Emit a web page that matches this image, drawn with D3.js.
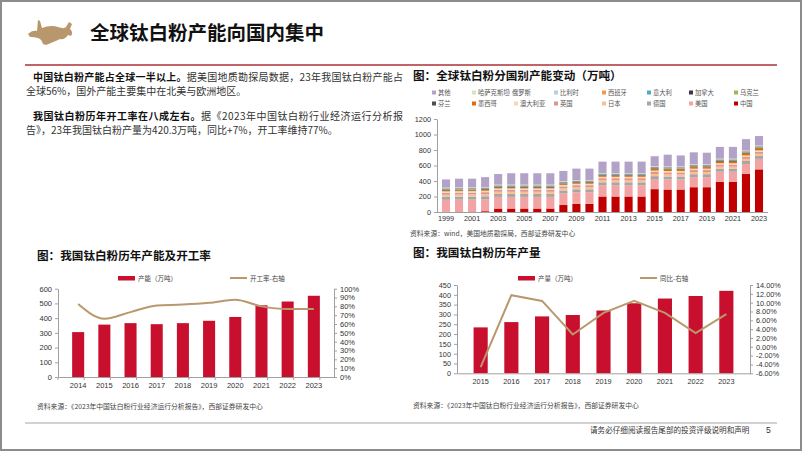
<!DOCTYPE html>
<html><head><meta charset="utf-8">
<script src="https://cdn.jsdelivr.net/npm/d3@7"></script>
<style>body{margin:0;background:#fff}svg{display:block;font-family:"Noto Sans CJK SC","Noto Sans",sans-serif}</style>
</head><body><svg id="c" width="802" height="451"></svg>
<script>
// ---------- DATA ----------
const stackYears = ["1999","2000","2001","2002","2003","2004","2005","2006","2007","2008","2009","2010","2011","2012","2013","2014","2015","2016","2017","2018","2019","2020","2021","2022","2023"];
const stackTickYears = ["1999","2001","2003","2005","2007","2009","2011","2013","2015","2017","2019","2021","2023"];
const stackTicks = [0,200,400,600,800,1000,1200];
const seriesNames = ["中国","美国","德国","日本","英国","澳大利亚","墨西哥","芬兰","乌克兰","加拿大","意大利","西班牙","比利时","俄罗斯","哈萨克斯坦","其他"];
const seriesColors = ["#c00000","#f2a3a3","#a6a6a6","#fac090","#d99694","#fcd5b5","#e46c0a","#4d4d4d","#9bbb59","#403152","#4bacc6","#f79646","#b9cde5","#ccc1da","#d7e4bd","#b3a2c7"];
const chinaCap     = [2,5,5,10,45,45,45,45,45,90,105,105,200,200,200,200,295,290,290,320,320,390,390,490,550];
const usaCap       = [155,155,155,155,150,150,150,150,150,150,150,150,145,145,145,145,130,130,130,130,130,130,130,130,135];
const germanyCap   = [38,38,38,38,38,38,38,38,38,38,38,38,38,38,38,38,38,38,38,38,38,38,38,38,38];
const japanCap     = [28,28,28,28,28,28,28,28,28,28,28,28,28,28,28,28,28,28,28,28,28,28,28,28,28];
const ukCap        = [25,25,25,25,25,25,25,25,25,25,25,25,25,25,25,25,25,25,25,25,25,25,25,25,25];
const australiaCap = [18,18,18,18,18,18,18,18,18,18,18,18,18,18,18,18,18,18,18,18,18,18,18,18,18];
const mexicoCap    = [10,10,10,10,10,10,10,10,10,10,10,10,10,10,10,10,20,20,20,20,20,20,20,25,25];
const finlandCap   = [10,10,10,10,10,10,10,10,10,10,10,10,10,10,10,10,10,10,10,10,10,10,10,10,10];
const ukraineCap   = [8,8,8,8,8,8,8,8,8,8,8,8,8,8,8,8,8,8,8,8,8,8,8,8,8];
const canadaCap    = [5,5,5,5,5,5,5,5,5,5,5,5,5,5,5,5,5,5,5,5,5,5,5,5,5];
const italyCap     = [5,5,5,5,5,5,5,5,5,5,5,5,5,5,5,5,5,5,5,5,5,5,5,5,5];
const spainCap     = [4,4,4,4,4,4,4,4,4,4,4,4,4,4,4,4,4,4,4,4,4,4,4,4,4];
const belgiumCap   = [4,4,4,4,4,4,4,4,4,4,4,4,4,4,4,4,4,4,4,4,4,4,4,4,4];
const russiaCap    = [2,2,2,2,2,2,2,2,2,2,2,2,2,2,2,2,2,2,2,2,2,2,2,2,2];
const kazakhCap    = [1,1,1,1,1,1,1,1,1,1,1,1,1,1,1,1,1,1,1,1,1,1,1,1,1];
const otherCap     = [105,112,112,127,137,147,147,147,147,132,147,147,147,147,147,147,127,152,142,152,147,152,152,147,122];
const seriesValues = [chinaCap,usaCap,germanyCap,japanCap,ukCap,australiaCap,mexicoCap,finlandCap,ukraineCap,canadaCap,italyCap,spainCap,belgiumCap,russiaCap,kazakhCap,otherCap];
const legendOrder = ["其他","哈萨克斯坦","俄罗斯","比利时","西班牙","意大利","加拿大","乌克兰","芬兰","墨西哥","澳大利亚","英国","日本","德国","美国","中国"];

const capYears = ["2014","2015","2016","2017","2018","2019","2020","2021","2022","2023"];
const capacity = [305,356,366,359,366,382,408,487,513,552];
const utilization = [0.826,0.66,0.735,0.81,0.82,0.84,0.875,0.80,0.77,0.77];
const capLeftTicks = [0,100,200,300,400,500,600];
const capRightTicks = [0,0.1,0.2,0.3,0.4,0.5,0.6,0.7,0.8,0.9,1.0];

const outYears = ["2015","2016","2017","2018","2019","2020","2021","2022","2023"];
const output = [234,261,290,297,320,357,381,394,420.3];
const yoy = [-0.046,0.117,0.104,0.028,0.077,0.104,0.077,0.031,0.074];
const outLeftTicks = [0,50,100,150,200,250,300,350,400,450];
const outRightTicks = [-0.06,-0.04,-0.02,0,0.02,0.04,0.06,0.08,0.10,0.12,0.14];

// ---------- DRAW ----------
const svg = d3.select("#c");
const RED = "#c8102e", TAN = "#b9986e", AX = "#a0a0a0", TX = "#333";
const NUMF = "'Liberation Sans',Arial,sans-serif";

svg.append("rect").attr("x",1).attr("y",1).attr("width",800).attr("height",449).attr("fill","#fff").attr("stroke","#8c8c8c").attr("stroke-width",2);

// logo
svg.append("path").attr("fill","#b8976c")
  .attr("d","M28,34 C31,31 34,30 37,31 L38,20 L40,21 L42,28 C47,26 53,25 58,27 C62,28 64,29 66,27 L69,22 L72,24 L70,29 C72,31 73,33 71,36 L68,35 C66,38 63,40 60,39 C56,41 51,43 46,45 L43,44 C42,41 41,39 38,38 C35,37 32,37 30,37 Z");

svg.append("text").attr("x",90).attr("y",40).attr("font-size",19.5).attr("font-weight",700).attr("fill","#111").text("全球钛白粉产能向国内集中");
svg.append("line").attr("x1",25).attr("x2",777).attr("y1",65).attr("y2",65).attr("stroke","#c0646a").attr("stroke-width",2);

// paragraphs
function para(x,y,parts,len){
  const t = svg.append("text").attr("x",x).attr("y",y).attr("font-size",10).attr("fill",TX);
  if(len) t.attr("textLength",len).attr("lengthAdjust","spacing");
  parts.forEach(p=>t.append("tspan").attr("font-weight",p[1]?700:400).attr("fill",p[1]?"#111":TX).text(p[0]));
}
para(33,81,[["中国钛白粉产能占全球一半以上。",1],["据美国地质勘探局数据，23年我国钛白粉产能占",0]],370);
para(26,95,[["全球56%，国外产能主要集中在北美与欧洲地区。",0]]);
para(33,120,[["我国钛白粉历年开工率在八成左右。",1],["据《2023年中国钛白粉行业经济运行分析报",0]],370);
para(26,134,[["告》，23年我国钛白粉产量为420.3万吨，同比+7%，开工率维持77%。",0]]);

// titles
function title(x,y,s){svg.append("text").attr("x",x).attr("y",y).attr("font-size",11.6).attr("font-weight",700).attr("fill","#111").text(s);}
title(413,80,"图：全球钛白粉分国别产能变动（万吨）");
title(37,260,"图：我国钛白粉历年产能及开工率");
title(413,257,"图：我国钛白粉历年产量");

function src(x,y,s){svg.append("text").attr("x",x).attr("y",y).attr("font-size",6.8).attr("fill","#444").text(s);}
src(410,236,"资料来源：wind，美国地质勘探局，西部证券研发中心");
src(37,409,"资料来源：《2023年中国钛白粉行业经济运行分析报告》，西部证券研发中心");
src(413,408,"资料来源：《2023年中国钛白粉行业经济运行分析报告》，西部证券研发中心");

svg.append("line").attr("x1",25).attr("x2",777).attr("y1",423).attr("y2",423).attr("stroke","#a6a6a6").attr("stroke-width",1);
svg.append("text").attr("x",590).attr("y",433).attr("font-size",7.6).attr("fill","#333").text("请务必仔细阅读报告尾部的投资评级说明和声明");
svg.append("text").attr("x",766).attr("y",433).attr("font-size",8.5).attr("font-family",NUMF).attr("fill","#333").text("5");

// ---------- stacked chart ----------
{
  const x = d3.scaleBand().domain(stackYears).range([437,768]).padding(0.38);
  const y = d3.scaleLinear().domain([0,1200]).range([212,119]);
  const rows = stackYears.map((yr,i)=>{const o={year:yr};seriesNames.forEach((n,k)=>o[n]=seriesValues[k][i]);return o;});
  const stacked = d3.stack().keys(seriesNames)(rows);
  const g = svg.append("g");
  stacked.forEach((s,k)=>{
    g.selectAll(null).data(s).join("rect")
      .attr("x",d=>x(d.data.year)).attr("width",x.bandwidth())
      .attr("y",d=>y(d[1])).attr("height",d=>Math.max(0,y(d[0])-y(d[1])))
      .attr("fill",seriesColors[k]);
  });
  const ya = svg.append("g").attr("transform","translate(437,0)").call(d3.axisLeft(y).tickValues(stackTicks).tickFormat(d3.format("d")).tickSize(3).tickSizeOuter(0).tickPadding(3));
  const xa = svg.append("g").attr("transform","translate(0,212)").call(d3.axisBottom(x).tickValues(stackTickYears).tickSize(0).tickPadding(4));
  [ya,xa].forEach(a=>{a.selectAll("path,line").attr("stroke",AX);a.selectAll("text").attr("font-family",NUMF).attr("font-size",7.3).attr("fill",TX);});
  xa.select("path").attr("d","M437,0.5H768");
  // legend
  const colX = [[432,472,506,554,602,647,689,734],[432,472,514,554,602,647,689,734]];
  legendOrder.forEach((n,i)=>{
    const r = Math.floor(i/8), c = i%8;
    const lx = colX[r][c], ly = r===0?92.5:103.5;
    const k = seriesNames.indexOf(n);
    svg.append("rect").attr("x",lx).attr("y",ly-2).attr("width",4).attr("height",4).attr("fill",seriesColors[k]);
    svg.append("text").attr("x",lx+6).attr("y",ly+2.3).attr("font-size",6.3).attr("fill","#555").text(n);
  });
}

// ---------- capacity + utilization ----------
{
  const x = d3.scaleBand().domain(capYears).range([58,334]).padding(0.54);
  const y = d3.scaleLinear().domain([0,600]).range([377,288.7]);
  const y2 = d3.scaleLinear().domain([0,1]).range([377,288.7]);
  svg.append("g").selectAll("rect").data(capYears).join("rect")
    .attr("x",d=>x(d)).attr("width",x.bandwidth()).attr("y",(d,i)=>y(capacity[i])).attr("height",(d,i)=>y(0)-y(capacity[i])).attr("fill",RED);
  const line = d3.line().x((d,i)=>x(capYears[i])+x.bandwidth()/2).y(d=>y2(d)).curve(d3.curveMonotoneX);
  svg.append("path").datum(utilization).attr("d",line).attr("fill","none").attr("stroke",TAN).attr("stroke-width",2);
  const ya = svg.append("g").attr("transform","translate(58,0)").call(d3.axisLeft(y).tickValues(capLeftTicks).tickSize(3).tickSizeOuter(0).tickPadding(3));
  const yb = svg.append("g").attr("transform","translate(334,0)").call(d3.axisRight(y2).tickValues(capRightTicks).tickFormat(d3.format(".0%")).tickSize(3).tickSizeOuter(0).tickPadding(3));
  const xa = svg.append("g").attr("transform","translate(0,377)").call(d3.axisBottom(x).tickSize(0).tickPadding(6).tickSizeOuter(0));
  [ya,yb,xa].forEach(a=>{a.selectAll("path,line").attr("stroke",AX);a.selectAll("text").attr("font-family",NUMF).attr("font-size",7.5).attr("fill",TX);});
  svg.append("g").selectAll("line").data(capYears.concat(["end"])).join("line")
    .attr("x1",(d,i)=>58+i*x.step()).attr("x2",(d,i)=>58+i*x.step()).attr("y1",377).attr("y2",380).attr("stroke",AX);
  svg.append("rect").attr("x",118).attr("y",276).attr("width",17).attr("height",4.5).attr("fill",RED);
  svg.append("text").attr("x",138).attr("y",280.5).attr("font-size",6.5).attr("fill","#444").text("产能（万吨）");
  svg.append("line").attr("x1",230).attr("x2",247).attr("y1",278).attr("y2",278).attr("stroke",TAN).attr("stroke-width",2);
  svg.append("text").attr("x",250).attr("y",280.5).attr("font-size",6.5).attr("fill","#444").text("开工率-右轴");
}

// ---------- output + yoy ----------
{
  const x = d3.scaleBand().domain(outYears).range([457,750]).padding(0.54);
  const y = d3.scaleLinear().domain([0,450]).range([373.3,285]);
  const y2 = d3.scaleLinear().domain([-0.06,0.14]).range([373.3,285]);
  svg.append("g").selectAll("rect").data(outYears).join("rect")
    .attr("x",d=>x(d)).attr("width",x.bandwidth()).attr("y",(d,i)=>y(output[i])).attr("height",(d,i)=>y(0)-y(output[i])).attr("fill",RED);
  const line = d3.line().x((d,i)=>x(outYears[i])+x.bandwidth()/2).y(d=>y2(d));
  svg.append("path").datum(yoy).attr("d",line).attr("fill","none").attr("stroke",TAN).attr("stroke-width",2).attr("stroke-linejoin","miter");
  const ya = svg.append("g").attr("transform","translate(457,0)").call(d3.axisLeft(y).tickValues(outLeftTicks).tickSize(3).tickSizeOuter(0).tickPadding(3));
  const yb = svg.append("g").attr("transform","translate(750,0)").call(d3.axisRight(y2).tickValues(outRightTicks).tickFormat(d3.format(".2%")).tickSize(3).tickSizeOuter(0).tickPadding(3));
  const xa = svg.append("g").attr("transform","translate(0,373.3)").call(d3.axisBottom(x).tickSize(0).tickPadding(6).tickSizeOuter(0));
  [ya,yb,xa].forEach(a=>{a.selectAll("path,line").attr("stroke",AX);a.selectAll("text").attr("font-family",NUMF).attr("font-size",7.3).attr("fill",TX);});
  yb.selectAll("text").text(d=>d3.format(".2%")(d).replace("−","-"));
  svg.append("rect").attr("x",518).attr("y",276).attr("width",17).attr("height",4.5).attr("fill",RED);
  svg.append("text").attr("x",538).attr("y",280.5).attr("font-size",6.5).attr("fill","#444").text("产量（万吨）");
  svg.append("line").attr("x1",640).attr("x2",657).attr("y1",278).attr("y2",278).attr("stroke",TAN).attr("stroke-width",2);
  svg.append("text").attr("x",660).attr("y",280.5).attr("font-size",6.5).attr("fill","#444").text("同比-右轴");
}
</script></body></html>
